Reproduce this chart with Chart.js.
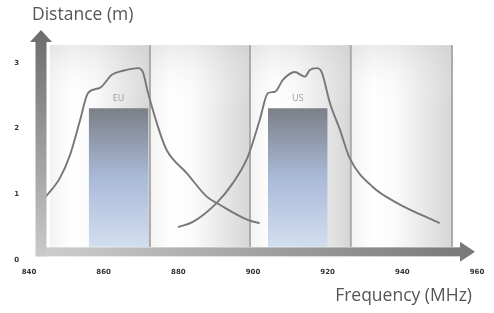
<!DOCTYPE html>
<html>
<head>
<meta charset="utf-8">
<script src="https://cdn.jsdelivr.net/npm/chart.js@4/dist/chart.umd.min.js"></script>
<style>
  html, body { margin: 0; padding: 0; background: #fff; }
  #wrap { width: 494px; height: 313px; }
</style>
</head>
<body>
<div id="wrap"><canvas id="chart" width="494" height="313"></canvas></div>
<script>
// tick labels
const xTicks = [840, 860, 880, 900, 920, 940, 960];
const yTicks = [0, 1, 2, 3];

// EU reader curve (MHz, m)
const euFreq = [844.0, 848.3, 851.0, 853.7, 855.8, 859.0, 862.2, 865.2, 869.2, 870.5, 871.9, 875.1, 876.9, 882.3, 887.7, 891.1, 898.6, 901.8];
const euDist = [0.93, 1.25, 1.60, 2.13, 2.54, 2.62, 2.82, 2.88, 2.92, 2.86, 2.54, 1.93, 1.67, 1.32, 0.96, 0.84, 0.61, 0.56];

// US reader curve (MHz, m)
const usFreq = [879.9, 883.9, 890.3, 894.6, 898.6, 901.8, 904.0, 905.9, 908.0, 911.2, 913.9, 915.2, 917.1, 918.4, 920.6, 923.3, 925.9, 932.1, 938.5, 950.0];
const usDist = [0.50, 0.58, 0.87, 1.17, 1.57, 2.13, 2.54, 2.56, 2.74, 2.86, 2.79, 2.89, 2.92, 2.86, 2.39, 1.98, 1.55, 1.11, 0.87, 0.56];

// frequency bands
const bandNames = ['EU', 'US'];
const bandStart = [856, 904];
const bandEnd = [872, 920];
const bandHeight = [2.31, 2.31];

// background panels (MHz edges)
const panelEdges = [845.6, 872.4, 899.2, 926.2, 953.3];
const panelTop = 3.27;
const floorValue = 0.2;

function toPoints(xs, ys) {
  return xs.map((x, i) => ({ x: x, y: ys[i] }));
}

function bandGradient(ctx) {
  const chart = ctx.chart;
  const y = chart.scales.y;
  if (!chart.chartArea || !y) return '#a8b8d8';
  const y0 = y.getPixelForValue(bandHeight[0]);
  const y1 = y.getPixelForValue(floorValue);
  if (!isFinite(y0) || !isFinite(y1)) return '#a8b8d8';
  const g = chart.ctx.createLinearGradient(0, y0, 0, y1);
  g.addColorStop(0, '#7c7f87');
  g.addColorStop(0.5, '#a9bad8');
  g.addColorStop(1, '#d2def0');
  return g;
}

const bandSets = bandNames.map((name, i) => ({
  label: name,
  data: [{ x: bandStart[i], y: bandHeight[i] }, { x: bandEnd[i], y: bandHeight[i] }],
  borderWidth: 0,
  pointRadius: 0,
  fill: { value: floorValue },
  backgroundColor: bandGradient,
  order: 2
}));

const curveStyle = {
  borderColor: '#777777',
  borderWidth: 1.9,
  pointRadius: 0,
  cubicInterpolationMode: 'monotone',
  fill: false,
  order: 1
};

// panels behind everything, arrows and titles on top
const panelsPlugin = {
  id: 'panels',
  beforeDatasetsDraw(chart) {
    const { ctx, scales: { x, y } } = chart;
    const top = y.getPixelForValue(panelTop);
    const bottom = y.getPixelForValue(floorValue);
    ctx.save();
    for (let i = 0; i < panelEdges.length - 1; i++) {
      const l = x.getPixelForValue(panelEdges[i]);
      const r = x.getPixelForValue(panelEdges[i + 1]);
      const g = ctx.createLinearGradient(l, 0, r, 0);
      g.addColorStop(0, '#f3f3f3');
      g.addColorStop(0.22, '#ffffff');
      g.addColorStop(0.45, '#fafafa');
      g.addColorStop(1, '#d6d6d6');
      ctx.fillStyle = g;
      ctx.fillRect(l, top, r - l, bottom - top);
      const v = ctx.createLinearGradient(0, top, 0, bottom);
      v.addColorStop(0, 'rgba(200,200,200,0.35)');
      v.addColorStop(0.3, 'rgba(255,255,255,0)');
      ctx.fillStyle = v;
      ctx.fillRect(l, top, r - l, bottom - top);
    }
    ctx.strokeStyle = '#ababab';
    ctx.lineWidth = 2;
    for (let i = 1; i < panelEdges.length; i++) {
      const px = x.getPixelForValue(panelEdges[i]);
      ctx.beginPath();
      ctx.moveTo(px, top);
      ctx.lineTo(px, bottom);
      ctx.stroke();
    }
    ctx.restore();
  },
  afterDatasetsDraw(chart) {
    const { ctx, chartArea, scales: { x, y } } = chart;
    ctx.save();
    // band labels
    ctx.fillStyle = '#9a9a9a';
    ctx.font = '9px "Open Sans"';
    ctx.textAlign = 'center';
    ctx.textBaseline = 'middle';
    bandNames.forEach((n, i) => {
      const cx = x.getPixelForValue((bandStart[i] + bandEnd[i]) / 2);
      ctx.fillText(n, cx, y.getPixelForValue(bandHeight[i]) - 10);
    });

    // horizontal axis arrow
    const ay = y.getPixelForValue(floorValue) + 5;
    const ax0 = chartArea.left + 7;
    const tipX = chartArea.right - 2;
    const hg = ctx.createLinearGradient(ax0, 0, tipX, 0);
    hg.addColorStop(0, '#cfcfcf');
    hg.addColorStop(0.5, '#a2a2a2');
    hg.addColorStop(1, '#777777');
    ctx.fillStyle = hg;
    ctx.fillRect(ax0, ay - 4.5, tipX - 15 - ax0, 9);
    ctx.beginPath();
    ctx.moveTo(tipX - 15, ay - 10);
    ctx.lineTo(tipX, ay);
    ctx.lineTo(tipX - 15, ay + 10);
    ctx.closePath();
    ctx.fill();

    // vertical axis arrow
    const vx = chartArea.left + 12;
    const tipY = chartArea.top;
    const vg = ctx.createLinearGradient(0, ay + 4.5, 0, tipY);
    vg.addColorStop(0, '#cacaca');
    vg.addColorStop(0.5, '#9a9a9a');
    vg.addColorStop(1, '#6c6c6c');
    ctx.fillStyle = vg;
    ctx.fillRect(vx - 5.5, tipY + 12, 11, ay + 4.5 - tipY - 12);
    ctx.beginPath();
    ctx.moveTo(vx - 11, tipY + 12);
    ctx.lineTo(vx, tipY);
    ctx.lineTo(vx + 11, tipY + 12);
    ctx.closePath();
    ctx.fill();

    // axis titles
    ctx.fillStyle = '#555';
    ctx.font = '17.5px "Open Sans"';
    ctx.textAlign = 'left';
    ctx.textBaseline = 'alphabetic';
    ctx.fillText('Distance (m)', 32, 20);
    ctx.textAlign = 'right';
    ctx.fillText('Frequency (MHz)', 472, 301);
    ctx.restore();
  }
};

const ctx = document.getElementById('chart').getContext('2d');
new Chart(ctx, {
  type: 'line',
  data: {
    datasets: [
      Object.assign({ label: 'EU reader', data: toPoints(euFreq, euDist) }, curveStyle),
      Object.assign({ label: 'US reader', data: toPoints(usFreq, usDist) }, curveStyle),
      ...bandSets
    ]
  },
  options: {
    responsive: false,
    animation: false,
    layout: { padding: { top: 30, right: 17, left: 0, bottom: 0 } },
    plugins: { legend: { display: false }, tooltip: { enabled: false } },
    scales: {
      x: {
        type: 'linear',
        min: 840,
        max: 960,
        grid: { display: false, drawTicks: false },
        border: { display: false },
        afterBuildTicks: s => { s.ticks = xTicks.map(v => ({ value: v })); },
        afterFit: s => { s.height = 53; },
        ticks: {
          padding: 8,
          color: '#333',
          font: { family: 'DejaVu Sans', size: 7, weight: 'bold' },
          maxRotation: 0
        }
      },
      y: {
        min: 0,
        max: 3.5,
        grid: { display: false, drawTicks: false },
        border: { display: false },
        afterBuildTicks: s => { s.ticks = yTicks.map(v => ({ value: v })); },
        afterFit: s => { s.width = 29; },
        ticks: {
          padding: 10,
          color: '#333',
          font: { family: 'DejaVu Sans', size: 7, weight: 'bold' }
        }
      }
    }
  },
  plugins: [panelsPlugin]
});
</script>
</body>
</html>
